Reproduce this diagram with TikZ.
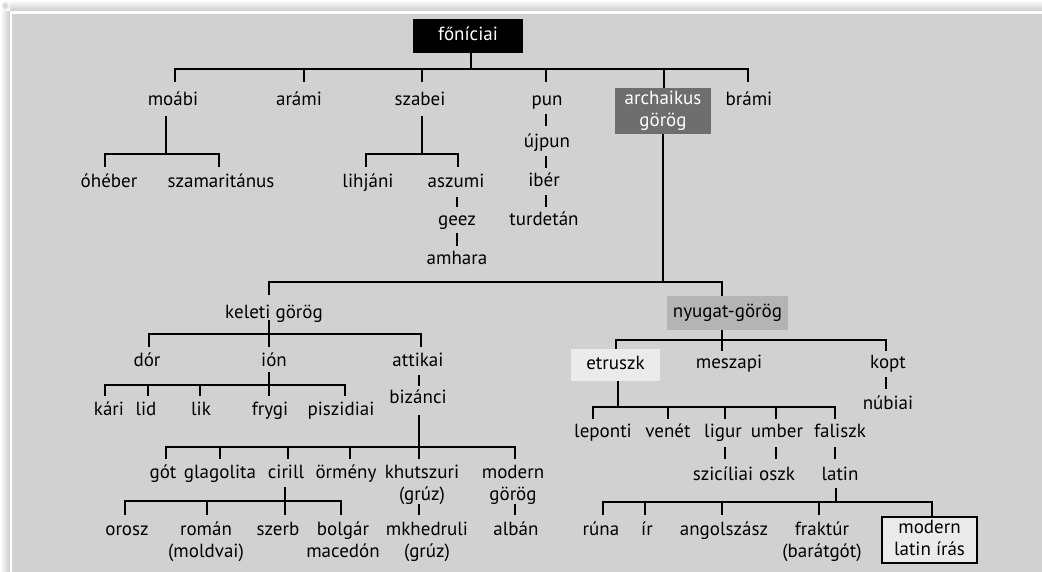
\documentclass[tikz,border=0pt]{standalone}
\usepackage{fontspec}
\setmainfont{PT Sans}
\usetikzlibrary{calc}
\definecolor{panel}{HTML}{D1D1D1}
\definecolor{archc}{HTML}{6E6E6E}
\definecolor{nyuc}{HTML}{B4B4B4}
\definecolor{lightc}{HTML}{EBEBEB}
\newcommand{\twol}[2]{\begin{tabular}[t]{@{}c@{}}#1\\#2\end{tabular}}
\newcommand{\twoc}[2]{\begin{tabular}{@{}c@{}}#1\\#2\end{tabular}}
\tikzset{
  fnt/.style={font=\fontsize{19}{22}\selectfont},
  t/.style={fnt, inner sep=0pt, anchor=base, text height=13pt, text depth=5pt},
  tm/.style={fnt, inner sep=0pt, anchor=base, text height=13pt},
  box/.style={fnt, inner sep=0pt, anchor=center},
  ln/.style={line width=1.3pt, black},
}
\begin{document}
\begin{tikzpicture}[x=1pt,y=-1pt]
\useasboundingbox (0,0) rectangle (1042,572);
% background and shadow
\fill[white] (0,0) rectangle (1042,572);
\shade[left color=white, right color=black!20] (0,11) rectangle (10,572);
\shade[top color=white, bottom color=black!20] (10,0) rectangle (1042,11);
\shade[inner color=black!20, outer color=white] (0,0) rectangle (10,11);
\fill[white] (10,11) rectangle (1042,572);
\fill[panel] (12,14) rectangle (1042,572);

% ---- nodes ----
\node[box, fill=black, text=white, minimum width=110pt, minimum height=34pt, text height=13pt, text depth=3pt] (fon) at (468,36) {főníciai};

\node[t] (moabi) at (173,106) {moábi};
\node[t] (arami) at (299,106) {arámi};
\node[t] (szabei) at (420,106) {szabei};
\node[t] (pun) at (547,106) {pun};
\node[box, fill=archc, text=white, minimum width=96pt, minimum height=46pt] (arch) at (663,111) {\twoc{archaikus}{görög}};
\node[t] (brami) at (749,106) {brámi};

\node[t] (ohe) at (109,188) {óhéber};
\node[t] (szam) at (221,188) {szamaritánus};
\node[t] (lih) at (368,188) {lihjáni};
\node[t] (asz) at (456,188) {aszumi};
\node[t] (geez) at (457,226) {geez};
\node[t] (amh) at (457,265) {amhara};
\node[t] (ujp) at (547,148) {újpun};
\node[t] (iber) at (544,187) {ibér};
\node[t] (turd) at (544,226) {turdetán};

\node[t] (kel) at (274,318) {keleti görög};
\node[box, fill=nyuc, minimum width=121pt, minimum height=33pt, text height=13pt, text depth=5pt] (nyu) at (727.5,313) {nyugat-görög};

\node[t] (dor) at (147,366) {dór};
\node[t] (ion) at (274,366) {ión};
\node[t] (att) at (418,366) {attikai};
\node[t] (kari) at (109,415) {kári};
\node[t] (lid) at (146,415) {lid};
\node[t] (lik) at (201,415) {lik};
\node[t] (fry) at (270,415) {frygi};
\node[t] (pisz) at (341,415) {piszidiai};
\node[t] (biz) at (418,403) {bizánci};

\node[t] (got) at (163,478) {gót};
\node[t] (glag) at (220,478) {glagolita};
\node[t] (cir) at (286,478) {cirill};
\node[t] (orm) at (346,478) {örmény};
\node[tm] (khu) at (422,478) {\twol{khutszuri}{(grúz)}};
\node[tm] (modg) at (513,478) {\twol{modern}{görög}};

\node[t] (oro) at (127,535) {orosz};
\node[tm] (rom) at (206,535) {\twol{román}{(moldvai)}};
\node[t] (sze) at (278,535) {szerb};
\node[tm] (bol) at (343,535) {\twol{bolgár}{macedón}};
\node[tm] (mkh) at (427,535) {\twol{mkhedruli}{(grúz)}};
\node[t] (alb) at (516,535) {albán};

\node[box, fill=lightc, minimum width=89pt, minimum height=32pt, text height=13pt, text depth=5pt] (etr) at (615.5,365) {etruszk};
\node[t] (mes) at (729,368) {meszapi};
\node[t] (kopt) at (888,368) {kopt};
\node[t] (nub) at (888,409) {núbiai};

\node[t] (lep) at (603,437) {leponti};
\node[t] (ven) at (668,437) {venét};
\node[t] (lig) at (723,437) {ligur};
\node[t] (umb) at (777,437) {umber};
\node[t] (fal) at (840,437) {faliszk};
\node[t] (szic) at (723,480) {szicíliai};
\node[t] (oszk) at (777,480) {oszk};
\node[t] (lat) at (840,480) {latin};

\node[t] (runa) at (601,535) {rúna};
\node[t] (ir) at (647,535) {ír};
\node[t] (ang) at (724,535) {angolszász};
\node[tm] (frak) at (822,535) {\twol{fraktúr}{(barátgót)}};
\node[box, draw=black, line width=1.5pt, fill=lightc, minimum width=95pt, minimum height=46pt] (mli) at (929.5,540) {\twoc{modern}{latin írás}};

% ---- connectors ----
\coordinate (j0) at (471,69);
\draw[ln] ($(fon.south)+(3,0)$) -- (j0);
\draw[ln] ($(moabi.north)+(2,-11)$) |- (j0);
\draw[ln] ($(arami.north)+(5,-11)$) |- (j0);
\draw[ln] ($(szabei.north)+(2,-11)$) |- (j0);
\draw[ln] ($(pun.north)+(-1,-11)$) |- (j0);
\draw[ln] ($(arch.north)+(1,0)$) |- (j0);
\draw[ln] ($(brami.north)+(-1,-11)$) |- (j0);

\coordinate (j1) at (166,154);
\draw[ln] ($(moabi.south)+(-7,5)$) -- (j1);
\draw[ln] ($(ohe.north)+(-4,-8)$) |- (j1);
\draw[ln] ($(szam.north)+(-2,-8)$) |- (j1);

\coordinate (j2) at (422,154);
\draw[ln] ($(szabei.south)+(2,5)$) -- (j2);
\draw[ln] ($(lih.north)+(-2,-8)$) |- (j2);
\draw[ln] ($(asz.north)+(2,-8)$) |- (j2);
\draw[ln] ($(asz.south)+(1,4)$) -- ($(geez.north)+(0,-6)$);
\draw[ln] ($(geez.south)+(0,2)$) -- ($(amh.north)+(0,-6)$);

\draw[ln] ($(pun.south)+(-1,3)$) -- ($(ujp.north)+(-1,-9)$);
\draw[ln] ($(ujp.south)+(-1,3)$) -- ($(iber.north)+(2,-6)$);
\draw[ln] ($(iber.south)+(2,3)$) -- ($(turd.north)+(2,-6)$);

\coordinate (j3) at (663,282);
\draw[ln] (arch.south) -- (j3);
\draw[ln] ($(kel.north)+(-5,-10)$) |- (j3);
\draw[ln] ($(nyu.north)+(-5.5,0)$) |- (j3);

\coordinate (j4) at (269,334);
\draw[ln] ($(kel.south)+(-5,-3)$) -- (j4);
\draw[ln] ($(dor.north)+(2,-6)$) |- (j4);
\draw[ln] ($(ion.north)+(-5,-6)$) |- (j4);
\draw[ln] ($(att.north)+(3,-6)$) |- (j4);

\coordinate (j5) at (269,385);
\draw[ln] ($(ion.south)+(-5,1)$) -- (j5);
\draw[ln] ($(kari.north)+(-4,-6)$) |- (j5);
\draw[ln] ($(lid.north)+(2,-6)$) |- (j5);
\draw[ln] ($(lik.north)+(-1,-6)$) |- (j5);
\draw[ln] ($(fry.north)+(-1,-6)$) |- (j5);
\draw[ln] ($(pisz.north)+(4,-6)$) |- (j5);
\draw[ln] ($(att.south)+(1,4)$) -- ($(biz.north)+(1,-4)$);

\coordinate (j6) at (419,447);
\draw[ln] ($(biz.south)+(1,7)$) -- (j6);
\draw[ln] ($(got.north)+(3,-6)$) |- (j6);
\draw[ln] ($(glag.north)+(0,-6)$) |- (j6);
\draw[ln] ($(cir.north)+(2,-6)$) |- (j6);
\draw[ln] ($(orm.north)+(4,-6)$) |- (j6);
\draw[ln] ($(khu.north)+(-3,-6)$) |- (j6);
\draw[ln] ($(modg.north)+(2,-6)$) |- (j6);
\draw[ln] ($(khu.base)+(-3,26)$) -- ($(mkh.north)+(-8,-7)$);
\draw[ln] ($(modg.base)+(2,26)$) -- ($(alb.north)+(-1,-7)$);

\coordinate (j7) at (285,501);
\draw[ln] ($(cir.south)+(-1,4)$) -- (j7);
\draw[ln] ($(oro.north)+(-2,-7)$) |- (j7);
\draw[ln] ($(rom.north)+(1,-7)$) |- (j7);
\draw[ln] ($(sze.north)+(7,-7)$) |- (j7);
\draw[ln] ($(bol.north)+(-2,-7)$) |- (j7);

\coordinate (j8) at (722,340);
\draw[ln] ($(nyu.south)+(-5.5,0)$) -- (j8);
\draw[ln] ($(etr.north)+(0.5,0)$) |- (j8);
\draw[ln] ($(mes.north)+(-7,-4)$) |- (j8);
\draw[ln] ($(kopt.north)+(-2,-4)$) |- (j8);
\draw[ln] ($(kopt.south)+(-2,4)$) -- ($(nub.north)+(-2,-7)$);

\coordinate (j9) at (618,407);
\draw[ln] ($(etr.south)+(2.5,0)$) -- (j9);
\draw[ln] ($(lep.north)+(-10,-5)$) |- (j9);
\draw[ln] ($(ven.north)+(0,-5)$) |- (j9);
\draw[ln] ($(lig.north)+(2,-5)$) |- (j9);
\draw[ln] ($(umb.north)+(-1,-5)$) |- (j9);
\draw[ln] ($(fal.north)+(-5,-5)$) |- (j9);
\draw[ln] ($(lig.south)+(2,5)$) -- ($(szic.north)+(2,-8)$);
\draw[ln] ($(umb.south)+(-1,5)$) -- ($(oszk.north)+(-1,-8)$);
\draw[ln] ($(fal.south)+(-5,5)$) -- ($(lat.north)+(-5,-8)$);

\coordinate (j10) at (836,502);
\draw[ln] ($(lat.south)+(-4,3)$) -- (j10);
\draw[ln] ($(runa.north)+(2,-7)$) |- (j10);
\draw[ln] ($(ir.north)+(-2,-7)$) |- (j10);
\draw[ln] ($(ang.north)+(-2,-7)$) |- (j10);
\draw[ln] ($(frak.north)+(-3,-7)$) |- (j10);
\draw[ln] ($(mli.north)+(2.5,0)$) |- (j10);
\end{tikzpicture}
\end{document}
